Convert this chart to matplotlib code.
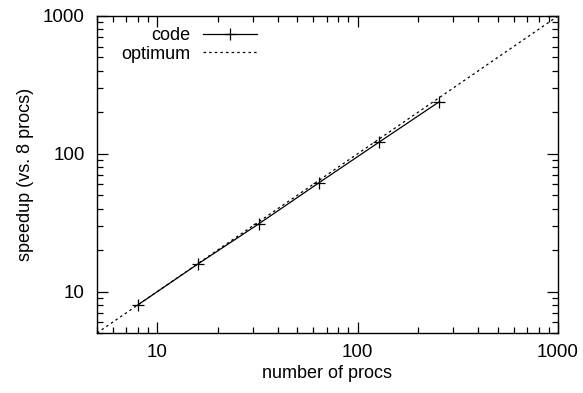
import matplotlib
matplotlib.use("Agg")
import matplotlib.pyplot as plt
from matplotlib.ticker import LogLocator, NullFormatter, FixedLocator, FixedFormatter

procs = [8, 16, 32, 64, 128, 256]
speedup = [8.0, 15.9, 30.9, 61.5, 121.5, 239.0]
opt_x = [5, 1000]
opt_y = [5, 1000]
major_ticks = [10, 100, 1000]
major_labels = ["10", "100", "1000"]

plt.rcParams['font.family'] = ['Liberation Sans', 'DejaVu Sans']

fig = plt.figure(figsize=(5.83, 3.93), dpi=100)
ax = fig.add_axes([97/583, 1-333/393, (558-97)/583, (333-16)/393])

ax.plot(procs, speedup, color='black', lw=0.9, marker='+', markersize=8,
        markeredgewidth=0.9, label='code')
ax.plot(opt_x, opt_y, color='black', lw=0.9, linestyle=(0, (2, 2.5)), label='optimum')

ax.set_xscale('log')
ax.set_yscale('log')
ax.set_xlim(5, 1000)
ax.set_ylim(5, 1000)

for axis in (ax.xaxis, ax.yaxis):
    axis.set_major_locator(FixedLocator(major_ticks))
    axis.set_major_formatter(FixedFormatter(major_labels))
    axis.set_minor_locator(LogLocator(base=10, subs=range(2, 10)))
    axis.set_minor_formatter(NullFormatter())

ax.tick_params(which='both', direction='in', top=True, right=True, width=0.9, labelsize=13.5)
ax.tick_params(which='major', length=8)
ax.tick_params(which='minor', length=4)
ax.tick_params(axis='x', which='major', pad=8)
ax.tick_params(axis='y', which='major', pad=9)
for s in ax.spines.values():
    s.set_linewidth(1.0)

ax.set_xlabel('number of procs', fontsize=13, labelpad=3)
ax.set_ylabel('speedup (vs. 8 procs)', fontsize=13, labelpad=6)

leg = ax.legend(loc='upper left', frameon=False, fontsize=13, markerfirst=False,
                handlelength=3.0, handletextpad=0.7, borderaxespad=0.2,
                labelspacing=0.1, bbox_to_anchor=(0.029, 1.0))
for t in leg.get_texts():
    t.set_ha('right')
leg._legend_box.align = 'right'

fig.savefig('out.png', dpi=100)
